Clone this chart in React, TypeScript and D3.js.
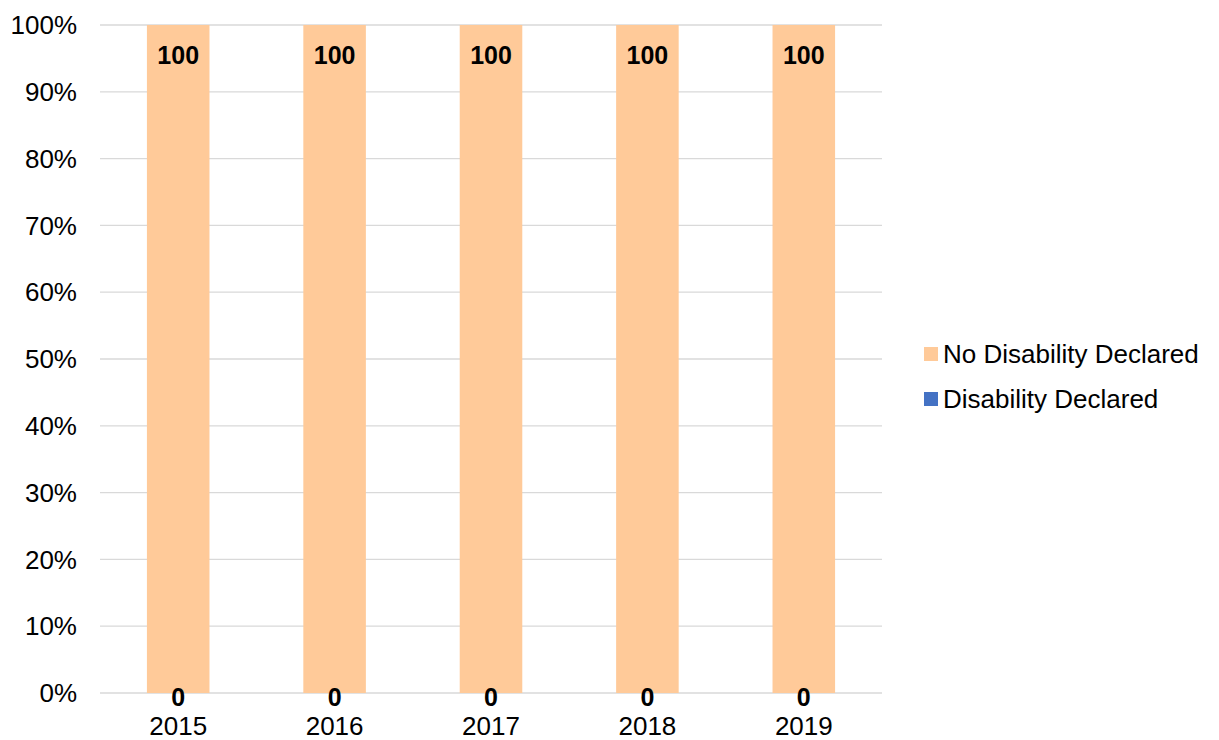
import * as React from 'react';
import * as d3 from 'd3';

const years = ['2015', '2016', '2017', '2018', '2019'];
const disabilityDeclared = [0, 0, 0, 0, 0];
const noDisabilityDeclared = [100, 100, 100, 100, 100];
const yTicks = [0, 10, 20, 30, 40, 50, 60, 70, 80, 90, 100];

const seriesNames = ['No Disability Declared', 'Disability Declared'];
const seriesColors = ['#FFCA99', '#4472C4'];

const W = 1219;
const H = 740;
const font = '"Liberation Sans", Arial, sans-serif';

export default function App() {
    const left = 100;
    const right = 882;
    const top = 25;
    const bottom = 693;

    const x = d3.scaleBand<string>().domain(years).range([left, right]).paddingInner(0.6).paddingOuter(0.3);
    const y = d3.scaleLinear().domain([0, 100]).range([bottom, top]);

    const rows = years.map((yr, i) => ({
        year: yr,
        dis: disabilityDeclared[i],
        noDis: noDisabilityDeclared[i],
    }));

    return (
        <svg width={W} height={H} style={{ position: 'absolute', left: 0, top: 0, background: '#fff' }}
             fontFamily={font}>
            {yTicks.map(t => (
                <g key={t}>
                    <line x1={left} x2={right} y1={y(t)} y2={y(t)} stroke="#d9d9d9" strokeWidth={1.3} />
                    <text x={77} y={y(t)} dy="0.35em" textAnchor="end" fontSize={26} fill="#000">{t + '%'}</text>
                </g>
            ))}
            {rows.map(r => {
                const bx = x(r.year) as number;
                const bw = x.bandwidth();
                const cx = bx + bw / 2;
                const y0 = y(0);
                const y1 = y(r.dis);
                const y2 = y(r.dis + r.noDis);
                return (
                    <g key={r.year}>
                        <rect x={bx} y={y1} width={bw} height={y0 - y1} fill={seriesColors[1]} />
                        <rect x={bx} y={y2} width={bw} height={y1 - y2} fill={seriesColors[0]} />
                        <text x={cx} y={y2 + 30} dy="0.35em" textAnchor="middle" fontSize={25} fontWeight="bold">{r.noDis}</text>
                        <text x={cx} y={(y0 + y1) / 2 + 4} dy="0.35em" textAnchor="middle" fontSize={25} fontWeight="bold">{r.dis}</text>
                        <text x={cx} y={735} textAnchor="middle" fontSize={26}>{r.year}</text>
                    </g>
                );
            })}
            {seriesNames.map((name, i) => (
                <g key={name} transform={`translate(924, ${354 + i * 45})`}>
                    <rect x={0} y={-7} width={14} height={14} fill={seriesColors[i]} />
                    <text x={19} y={0} dy="0.35em" fontSize={26}>{name}</text>
                </g>
            ))}
        </svg>
    );
}
